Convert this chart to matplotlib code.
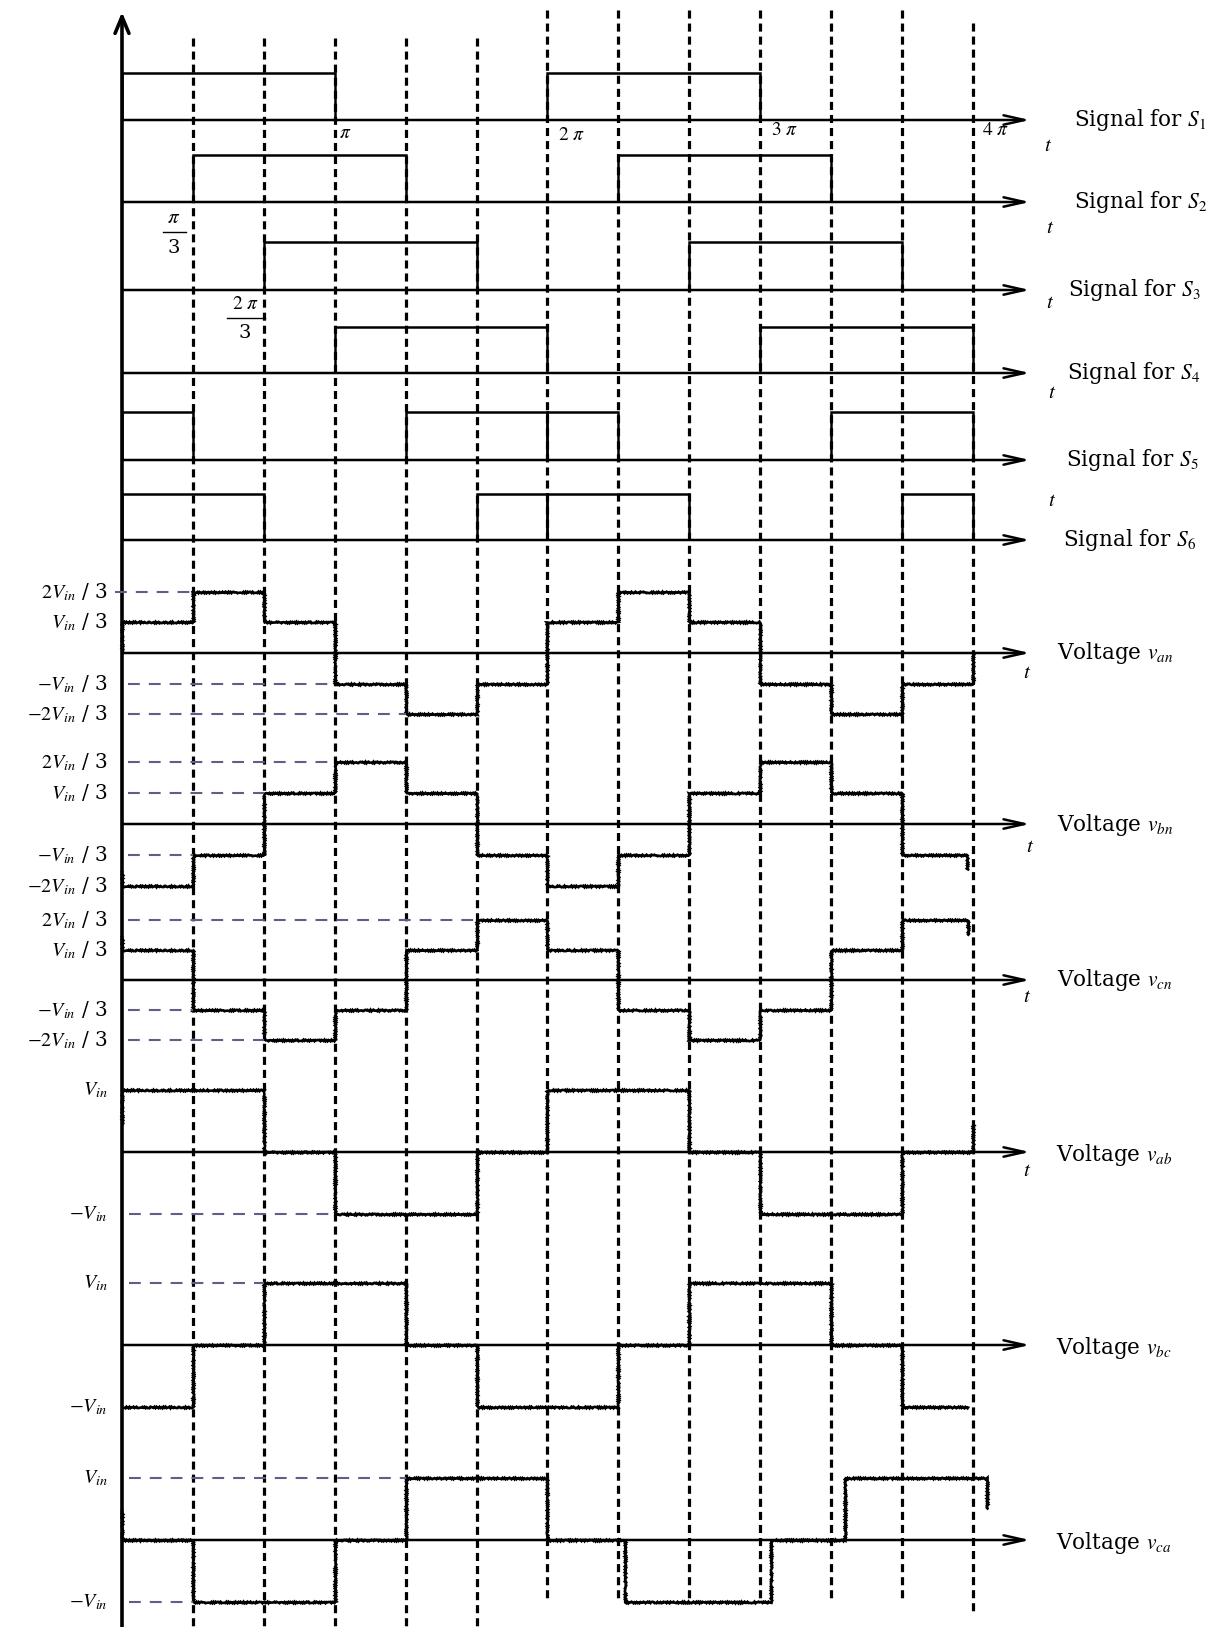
import numpy as np
import matplotlib
matplotlib.use('Agg')
import matplotlib.pyplot as plt

plt.rcParams['mathtext.fontset'] = 'stix'
plt.rcParams['font.family'] = ['DejaVu Serif']
plt.rcParams['lines.scale_dashes'] = False

# ---------------- data (time measured in units of pi/3) ----------------
pulses_S1 = [(0, 3), (6, 9)]
pulses_S2 = [(1, 4), (7, 10)]
pulses_S3 = [(2, 5), (8, 11)]
pulses_S4 = [(3, 6), (9, 12)]
pulses_S5 = [(0, 1), (4, 6), (6, 7), (10, 12)]
pulses_S6 = [(0, 2), (5, 6), (6, 8), (11, 12)]
signal_names = ['S_1', 'S_2', 'S_3', 'S_4', 'S_5', 'S_6']

# phase voltages, in units of Vin/3
van_edges = [0, 1, 2, 3, 4, 5, 6, 7, 8, 9, 10, 11, 12]
van_thirds = [1, 2, 1, -1, -2, -1, 1, 2, 1, -1, -2, -1]
vbn_edges = [0, 1, 2, 3, 4, 5, 6, 7, 8, 9, 10, 11, 11.92]
vbn_thirds = [-2, -1, 1, 2, 1, -1, -2, -1, 1, 2, 1, -1]
vcn_edges = [0, 1, 2, 3, 4, 5, 6, 7, 8, 9, 10, 11, 11.93]
vcn_thirds = [1, -1, -2, -1, 1, 2, 1, -1, -2, -1, 1, 2]
phase_tails = [0, -1.5, 1.5]          # end-tail levels (Vin/3 units)

# line voltages, in units of Vin
vab_edges = [0, 2, 3, 5, 6, 8, 9, 11, 12]
vab_levels = [1, 0, -1, 0, 1, 0, -1, 0]
vbc_edges = [0, 1, 2, 4, 5, 7, 8, 10, 11, 11.93]
vbc_levels = [-1, 0, 1, 0, -1, 0, 1, 0, -1]
vca_edges = [0, 1, 3, 4, 6, 7.1, 9.15, 10.2, 12.2]
vca_levels = [0, -1, 0, 1, 0, -1, 0, 1]
line_tails = [0.45, None, 0.5]

# dashed guide lines: (level, end sector)
guides_phase = [[(2, 1), (-1, 3), (-2, 4)],
                [(2, 3), (1, 2), (-1, 1)],
                [(2, 5), (-1, 1), (-2, 2)]]
guides_line = [[(-1, 3)], [(1, 2)], [(1, 4), (-1, 1)]]

phase_names = ['an', 'bn', 'cn']
line_names = ['ab', 'bc', 'ca']
phase_level_labels = {2: r'$2V_{in}$ / 3', 1: r'$V_{in}$ / 3',
                      -1: r'$-V_{in}$ / 3', -2: r'$-2V_{in}$ / 3'}
line_level_labels = {1: r'$V_{in}$', -1: r'$-V_{in}$'}

pi_tick_sectors = [3, 6, 9, 12]
pi_tick_labels = [r'$\pi$', r'$2\ \pi$', r'$3\ \pi$', r'$4\ \pi$']
sector_lines = list(range(1, 13))

# ---------------- layout ----------------
W, H = 1225, 1627
X0, UNIT = 122.0, 70.9
XL = (-X0 / UNIT, (W - X0) / UNIT)
AX_END = (1030 - X0) / UNIT

fig = plt.figure(figsize=(W / 100, H / 100), dpi=100)
fig.patch.set_facecolor('white')

lay = fig.add_axes([0, 0, 1, 1])
lay.set_xlim(0, W)
lay.set_ylim(H, 0)
lay.axis('off')

grid = fig.add_axes([0, 0, 1, 1])
grid.set_xlim(*XL)
grid.set_ylim(H, 0)
grid.axis('off')
grid.patch.set_alpha(0)

GUIDE_C = '#665a86'


def panel(y0, scale):
    ax = fig.add_axes([0, 0, 1, 1])
    ax.set_xlim(*XL)
    ax.set_ylim((y0 - H) / scale, y0 / scale)
    ax.axis('off')
    ax.patch.set_alpha(0)
    return ax


def axis_arrow(ax):
    ax.annotate('', xy=(AX_END, 0), xytext=(0, 0),
                arrowprops=dict(arrowstyle='->,head_length=0.75,head_width=0.17',
                                lw=1.8, color='k', shrinkA=0, shrinkB=0,
                                mutation_scale=20))


# vertical dashed sector lines
tops = [38] * 5 + [10] * 6 + [23]
bottoms = [1627] * 5 + [1600] * 6 + [1615]
for k, t, b in zip(sector_lines, tops, bottoms):
    grid.plot([k, k], [t, b], color='k', lw=2.3, dashes=(5.8, 3.6))

# y axis
lay.annotate('', xy=(X0, 12), xytext=(X0, H + 5),
             arrowprops=dict(arrowstyle='->,head_length=0.6,head_width=0.25',
                             lw=2.6, color='k', shrinkA=0, shrinkB=0,
                             mutation_scale=20))

# ---------------- gate signals ----------------
sig_axis_rows = [120, 202, 290, 373, 460, 540]
sig_high_rows = [73, 155, 242, 327, 412, 494]
all_pulses = [pulses_S1, pulses_S2, pulses_S3, pulses_S4, pulses_S5, pulses_S6]
sig_label_x = [1074, 1074, 1068, 1067, 1066, 1063]
sig_t_pos = [(1048, 145), (1050, 227), (1050, 302), (1052, 392), (1052, 500), None]

for i, pulses in enumerate(all_pulses):
    ax = panel(sig_axis_rows[i], sig_axis_rows[i] - sig_high_rows[i])
    axis_arrow(ax)
    for a, b in pulses:
        ax.stairs([1], [a, b], baseline=0, edgecolor='k', lw=1.8)
    lay.text(sig_label_x[i], sig_axis_rows[i], 'Signal for $%s$' % signal_names[i],
             fontsize=15.5, ha='left', va='center')
    if sig_t_pos[i] is not None:
        lay.text(*sig_t_pos[i], '$t$', fontsize=15, ha='center', va='center')

# tick labels on the S1 axis
tick_px = [(345, 133), (571, 135), (784, 130), (995, 130)]
for (x, y), lab in zip(tick_px, pi_tick_labels):
    lay.text(x, y, lab, fontsize=14, ha='center', va='center')

# fractions pi/3 and 2pi/3
lay.text(174, 217, r'$\pi$', fontsize=15, ha='center', va='center')
lay.plot([163, 186], [232, 232], color='k', lw=1.0)
lay.text(174, 248, '3', fontsize=14, ha='center', va='center')
lay.text(245, 304, r'$2\ \pi$', fontsize=14, ha='center', va='center')
lay.plot([227, 265], [318, 318], color='k', lw=1.0)
lay.text(245, 333, '3', fontsize=14, ha='center', va='center')

LABEL_X = (108 - X0) / UNIT


def draw_wave(ax, edges, values, tail):
    sp = ax.stairs(values, edges, baseline=tail, edgecolor='k', lw=1.9)
    sp.set_sketch_params(scale=0.8, length=2.5, randomness=2.0)


# ---------------- phase voltages ----------------
phase_rows = [(653, 92), (824, 93), (980, 90)]
phase_data = [(van_edges, van_thirds), (vbn_edges, vbn_thirds), (vcn_edges, vcn_thirds)]
phase_label_y = [653, 825, 980]
phase_t_pos = [(1027, 672), (1030, 846), (1027, 996)]
for i in range(3):
    y0, sc = phase_rows[i]
    ax = panel(y0, sc)
    edges, thirds = phase_data[i]
    vals = np.array(thirds) / 3.0
    for lev, end in guides_phase[i]:
        start = -0.1 if (i == 0 and lev == 2) else 0.08
        ax.plot([start, end], [lev / 3.0] * 2, color=GUIDE_C, lw=1.5, dashes=(8.5, 6.5))
    axis_arrow(ax)
    draw_wave(ax, edges, vals, phase_tails[i] / 3.0)
    for lev, lab in phase_level_labels.items():
        ax.text(LABEL_X, lev / 3.0, lab, fontsize=14.5, ha='right', va='center')
    lay.text(1057, phase_label_y[i], r'Voltage $v_{%s}$' % phase_names[i],
             fontsize=15.5, ha='left', va='center')
    lay.text(*phase_t_pos[i], '$t$', fontsize=15, ha='center', va='center')

# ---------------- line voltages ----------------
line_rows = [(1152, 62), (1345, 62), (1540, 62)]
line_data = [(vab_edges, vab_levels), (vbc_edges, vbc_levels), (vca_edges, vca_levels)]
for i in range(3):
    y0, sc = line_rows[i]
    ax = panel(y0, sc)
    edges, levels = line_data[i]
    for lev, end in guides_line[i]:
        ax.plot([0.1, end], [lev] * 2, color=GUIDE_C, lw=1.5, dashes=(8.5, 6.5))
    axis_arrow(ax)
    draw_wave(ax, edges, np.array(levels, dtype=float), line_tails[i])
    for lev, lab in line_level_labels.items():
        ax.text(LABEL_X, lev, lab, fontsize=14.5, ha='right', va='center')
    lay.text(1056, y0 + 3, r'Voltage $v_{%s}$' % line_names[i],
             fontsize=15.5, ha='left', va='center')
lay.text(1027, 1170, '$t$', fontsize=15, ha='center', va='center')

fig.savefig('out.png', dpi=100, facecolor='white')
